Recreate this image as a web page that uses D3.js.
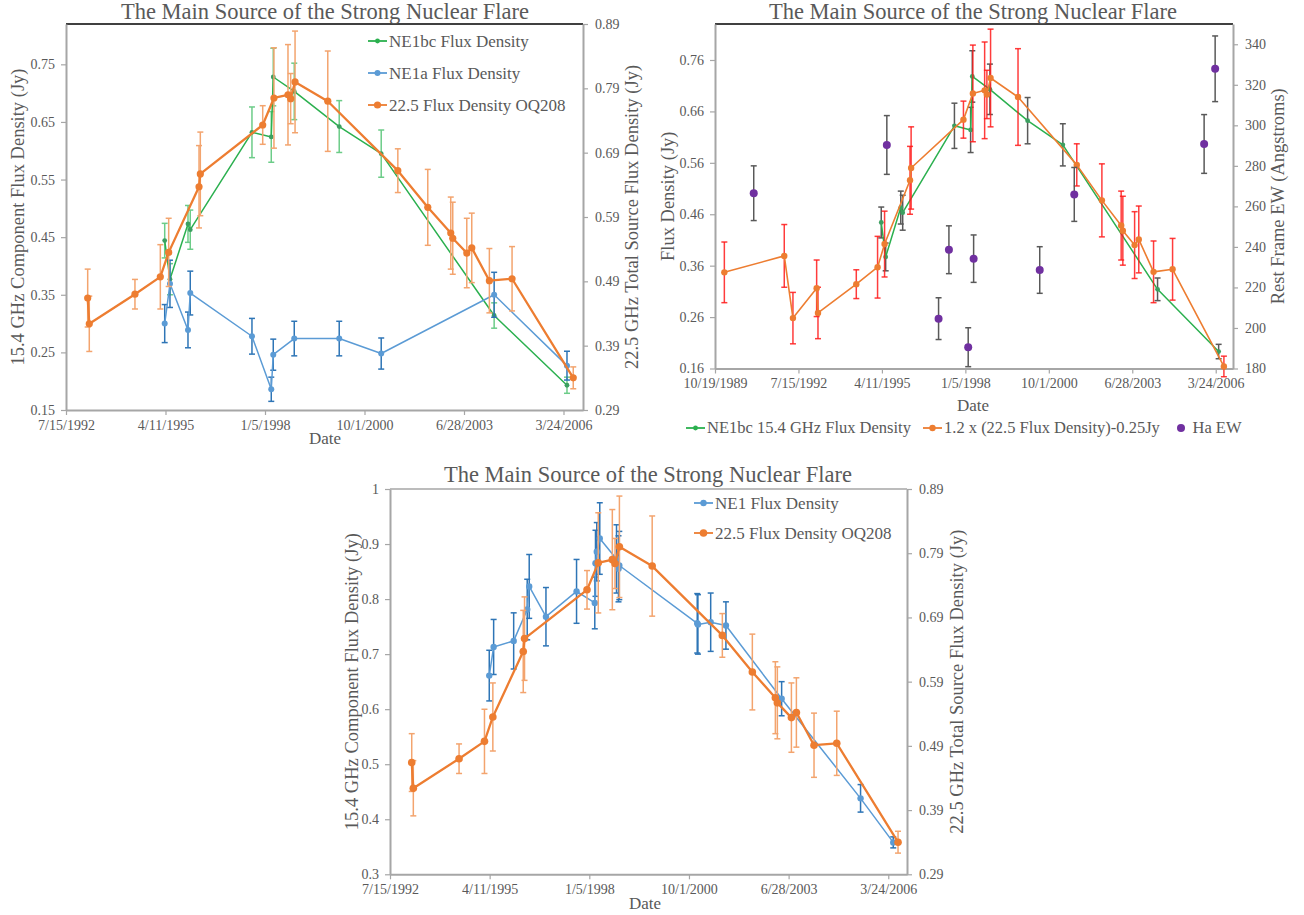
<!DOCTYPE html>
<html>
<head>
<meta charset="utf-8">
<script src="https://cdn.jsdelivr.net/npm/d3@7"></script>
<style>
  body { margin: 0; background: #fff; }
  text { font-family: "Liberation Serif", "Times New Roman", serif; fill: #595959; }
</style>
</head>
<body>
<svg id="chart" width="1304" height="915"></svg>
<script>
const parse = d3.timeParse("%Y-%m-%d");
const parseTick = d3.timeParse("%m/%d/%Y");
const SERIF = '"Liberation Serif", "Times New Roman", serif';

// 22.5 GHz total source flux density (OQ208)
const fluxDates = ["1993-02-18","1993-03-06","1994-06-08","1995-02-18","1995-05-13","1996-03-13","1996-03-26",
  "1997-12-13","1998-04-05","1998-08-24","1998-09-20","1998-11-03","1999-09-28","2001-09-01","2002-06-29",
  "2003-02-15","2003-03-07","2003-07-26","2003-09-14","2004-03-09","2004-10-23","2006-06-30"];
const flux225 = [0.464,0.424,0.470,0.497,0.535,0.637,0.657,0.733,0.775,0.780,0.774,0.800,0.770,0.662,0.605,
  0.565,0.557,0.534,0.542,0.491,0.494,0.340];
const flux225Err = [0.045,0.043,0.023,0.050,0.053,0.064,0.065,0.030,0.078,0.078,0.039,0.079,0.078,0.034,0.059,
  0.056,0.056,0.054,0.054,0.050,0.050,0.017];

// NE1bc and NE1a components (15.4 GHz)
const compDates = ["1995-04-03","1995-05-26","1995-11-23","1995-12-16","1997-08-27","1998-03-09","1998-03-29",
  "1998-10-26","2000-01-21","2001-03-18","2004-04-26","2006-04-28"];
const ne1bc = [0.444,0.377,0.473,0.463,0.632,0.624,0.728,0.703,0.642,0.595,0.314,0.193];
const ne1bcErr = [0.030,0.027,0.032,0.034,0.044,0.044,0.050,0.049,0.045,0.041,0.022,0.014];
const ne1a = [0.300,0.369,0.289,0.353,0.278,0.186,0.246,0.274,0.274,0.248,0.350,0.227];
const ne1aErr = [0.033,0.041,0.031,0.038,0.031,0.021,0.027,0.030,0.030,0.027,0.039,0.025];

// 1.2 x (22.5 flux) - 0.25 Jy, as plotted in the upper right panel
const scaledDates = ["1990-02-08","1992-01-27","1992-05-10","1993-02-18","1993-03-06","1994-06-08","1995-02-18",
  "1995-05-13","1996-03-13","1996-03-26","1997-12-13","1998-04-05","1998-08-24","1998-09-20","1998-11-03",
  "1999-09-28","2001-09-01","2002-06-29","2003-02-15","2003-03-07","2003-07-26","2003-09-14","2004-03-09",
  "2004-10-23","2006-06-30"];
const scaledFlux = [0.347,0.379,0.258,0.316,0.268,0.324,0.357,0.402,0.526,0.550,0.644,0.695,0.701,0.693,0.725,
  0.688,0.556,0.487,0.438,0.428,0.400,0.411,0.348,0.353,0.164];
const scaledErr = [0.059,0.061,0.050,0.055,0.050,0.028,0.060,0.064,0.066,0.080,0.036,0.094,0.094,0.047,0.095,
  0.094,0.041,0.071,0.067,0.067,0.065,0.065,0.060,0.060,0.020];

// H-alpha rest frame equivalent width (Angstroms)
const haDates = ["1991-01-26","1995-06-09","1997-02-18","1997-06-22","1998-02-08","1998-04-14","2000-06-14",
  "2001-08-02","2005-11-05","2006-03-17"];
const haEW = [266.5,290.3,204.6,238.6,190.5,234.2,228.6,265.9,290.8,327.9];
const haErr = [13.5,14.5,10.3,11.8,9.6,11.7,11.5,13.3,14.5,16.2];

// NE1 total (bottom panel)
const ne1Dates = ["1995-04-07","1995-05-21","1995-12-08","1996-04-22","1996-05-12","1996-10-27","1997-08-30",
  "1998-03-01","1998-03-08","1998-03-21","1998-04-20","1998-10-05","1998-10-25","1998-11-02","2000-12-23",
  "2000-12-30","2001-05-07","2001-10-07","2003-04-19","2005-06-19","2006-05-13"];
const ne1 = [0.661,0.713,0.724,0.781,0.823,0.768,0.814,0.793,0.865,0.886,0.910,0.873,0.855,0.861,0.756,
  0.754,0.758,0.752,0.619,0.438,0.358];
const ne1Err = [0.046,0.050,0.051,0.055,0.058,0.053,0.058,0.047,0.060,0.053,0.065,0.062,0.060,0.062,0.054,
  0.054,0.053,0.043,0.031,0.025,0.010];

// tick labels
const dateTicks = ["7/15/1992","4/11/1995","1/5/1998","10/1/2000","6/28/2003","3/24/2006"];
const dateTicksLong = ["10/19/1989","7/15/1992","4/11/1995","1/5/1998","10/1/2000","6/28/2003","3/24/2006"];
const fluxTicksA = [0.15,0.25,0.35,0.45,0.55,0.65,0.75];
const fluxTicksB = [0.16,0.26,0.36,0.46,0.56,0.66,0.76];
const fluxTicksC = [0.3,0.4,0.5,0.6,0.7,0.8,0.9,1];
const totalTicks = [0.29,0.39,0.49,0.59,0.69,0.79,0.89];
const ewTicks = [180,200,220,240,260,280,300,320,340];

const TITLE = "The Main Source of the Strong Nuclear Flare";
const svg = d3.select("#chart");

function styleAxis(sel) {
    sel.attr("font-family", SERIF).attr("font-size", 14);
    sel.select(".domain").attr("stroke", "#a6a6a6").attr("stroke-width", 2);
    sel.selectAll(".tick line").attr("stroke", "#a6a6a6").attr("stroke-width", 1.2);
    sel.selectAll(".tick text").attr("fill", "#595959")
        .style("font-family", SERIF).style("font-size", "14px");
}

function makePanel(p) {
    const g = svg.append("g");
    const x = d3.scaleTime().domain(p.xDomain.map(parse)).range([p.l, p.r]);
    const yL = d3.scaleLinear().domain(p.yL).range([p.b, p.t]);
    const yR = d3.scaleLinear().domain(p.yR).range([p.b, p.t]);

    g.append("line")
        .attr("x1", p.l).attr("x2", p.r).attr("y1", p.t).attr("y2", p.t)
        .attr("stroke", p.topColor).attr("stroke-width", 1.5);

    g.append("g").attr("transform", `translate(0,${p.b})`)
        .call(d3.axisBottom(x).tickValues(p.xTicks.map(parseTick))
            .tickFormat((d, i) => p.xTicks[i]).tickSize(5).tickSizeOuter(0).tickPadding(5))
        .call(styleAxis);
    g.append("g").attr("transform", `translate(${p.l},0)`)
        .call(d3.axisLeft(yL).tickValues(p.yLTicks).tickFormat(p.yLFormat)
            .tickSize(5).tickSizeOuter(0).tickPadding(6))
        .call(styleAxis);
    g.append("g").attr("transform", `translate(${p.r},0)`)
        .call(d3.axisRight(yR).tickValues(p.yRTicks).tickFormat(p.yRFormat)
            .tickSize(5).tickSizeOuter(0).tickPadding(7))
        .call(styleAxis);

    g.append("text").attr("x", p.titleX).attr("y", p.titleY)
        .attr("text-anchor", "middle").style("font-size", "22.5px").text(TITLE);
    g.append("text").attr("x", p.dateX).attr("y", p.dateY)
        .attr("text-anchor", "middle").style("font-size", "17px").text("Date");
    const midY = (p.t + p.b) / 2;
    g.append("text").attr("transform", `translate(${p.leftLabelX},${midY}) rotate(-90)`)
        .attr("text-anchor", "middle").attr("dy", "0.35em").style("font-size", "18.5px").text(p.leftLabel);
    g.append("text").attr("transform", `translate(${p.rightLabelX},${midY}) rotate(-90)`)
        .attr("text-anchor", "middle").attr("dy", "0.35em").style("font-size", "18.5px").text(p.rightLabel);

    return { g, x, yL, yR };
}

function drawSeries(ctx, y, dates, vals, errs, s) {
    const pts = dates.map((d, i) => ({
        x: ctx.x(parse(d)),
        y: y(vals[i]),
        lo: y(vals[i] - errs[i]),
        hi: y(vals[i] + errs[i])
    }));
    const eg = ctx.g.append("g")
        .attr("stroke", s.errColor).attr("stroke-width", s.errWidth || 1.5)
        .attr("stroke-opacity", s.errOpacity || 1);
    const cap = 3;
    pts.forEach(p => {
        eg.append("line").attr("x1", p.x).attr("x2", p.x).attr("y1", p.lo).attr("y2", p.hi);
        eg.append("line").attr("x1", p.x - cap).attr("x2", p.x + cap).attr("y1", p.lo).attr("y2", p.lo);
        eg.append("line").attr("x1", p.x - cap).attr("x2", p.x + cap).attr("y1", p.hi).attr("y2", p.hi);
    });
    if (s.lineWidth) {
        ctx.g.append("path").datum(pts)
            .attr("fill", "none").attr("stroke", s.color).attr("stroke-width", s.lineWidth)
            .attr("stroke-linejoin", "round")
            .attr("d", d3.line().x(d => d.x).y(d => d.y));
    }
    ctx.g.append("g").selectAll("circle").data(pts).join("circle")
        .attr("cx", d => d.x).attr("cy", d => d.y).attr("r", s.r)
        .attr("fill", s.marker || s.color);
}

function legendItem(g, x, y, label, color, r, withLine, size) {
    if (withLine) {
        g.append("line").attr("x1", x).attr("x2", x + 19).attr("y1", y).attr("y2", y)
            .attr("stroke", color).attr("stroke-width", 1.8);
    }
    g.append("circle").attr("cx", x + 9.5).attr("cy", y).attr("r", r).attr("fill", color);
    g.append("text").attr("x", x + 21).attr("y", y).attr("dy", "0.33em")
        .style("font-size", size + "px").text(label);
}

const fmt2 = d3.format(".2f");

// ---------- top left ----------
const A = makePanel({
    l: 66, r: 583, t: 24, b: 410,
    xDomain: ["1992-07-15", "2006-10-06"], xTicks: dateTicks,
    yL: [0.15, 0.82], yLTicks: fluxTicksA, yLFormat: fmt2,
    yR: [0.29, 0.89], yRTicks: totalTicks, yRFormat: fmt2,
    topColor: "#000",
    titleX: 325, titleY: 19, dateX: 325, dateY: 444,
    leftLabelX: 18, rightLabelX: 632,
    leftLabel: "15.4 GHz Component Flux Density (Jy)",
    rightLabel: "22.5 GHz Total Source Flux Density (Jy)"
});
drawSeries(A, A.yL, compDates, ne1bc, ne1bcErr,
    { color: "#2bb04f", marker: "#3c9f60", r: 2.4, lineWidth: 1.5, errColor: "#6ccc88" });
drawSeries(A, A.yL, compDates, ne1a, ne1aErr,
    { color: "#5b9bd5", r: 3, lineWidth: 1.5, errColor: "#2e75b6" });
drawSeries(A, A.yR, fluxDates, flux225, flux225Err,
    { color: "#ed7d31", r: 3.6, lineWidth: 2.3, errColor: "#f3a46e" });
legendItem(A.g, 368, 41, "NE1bc Flux Density", "#2bb04f", 2.4, true, 17);
legendItem(A.g, 368, 73, "NE1a Flux Density", "#5b9bd5", 3, true, 17);
legendItem(A.g, 368, 105, "22.5 Flux Density OQ208", "#ed7d31", 3.6, true, 17);

// ---------- top right ----------
const B = makePanel({
    l: 715, r: 1233, t: 24, b: 368.5,
    xDomain: ["1989-10-19", "2006-10-17"], xTicks: dateTicksLong,
    yL: [0.16, 0.83], yLTicks: fluxTicksB, yLFormat: fmt2,
    yR: [180, 350], yRTicks: ewTicks, yRFormat: d3.format("d"),
    topColor: "#000",
    titleX: 973, titleY: 19, dateX: 973, dateY: 411,
    leftLabelX: 668, rightLabelX: 1278,
    leftLabel: "Flux Density (Jy)",
    rightLabel: "Rest Frame EW (Angstroms)"
});
drawSeries(B, B.yL, compDates, ne1bc, ne1bcErr,
    { color: "#2bb04f", marker: "#3c9f60", r: 2.4, lineWidth: 1.5, errColor: "#595959" });
drawSeries(B, B.yL, scaledDates, scaledFlux, scaledErr,
    { color: "#ed7d31", r: 3.2, lineWidth: 1.6, errColor: "#ff1a1a", errOpacity: 0.85 });
drawSeries(B, B.yR, haDates, haEW, haErr,
    { color: "#7030a0", r: 4, lineWidth: 0, errColor: "#595959" });
legendItem(B.g, 686, 428, "NE1bc 15.4 GHz Flux Density", "#2bb04f", 2.4, true, 16.5);
legendItem(B.g, 923, 428, "1.2 x (22.5 Flux Density)-0.25Jy", "#ed7d31", 3.2, true, 16.5);
legendItem(B.g, 1171.5, 428, "Ha EW", "#7030a0", 4, false, 16.5);

// ---------- bottom ----------
const C = makePanel({
    l: 390, r: 907, t: 489, b: 874.3,
    xDomain: ["1992-07-15", "2006-09-28"], xTicks: dateTicks,
    yL: [0.3, 1.0], yLTicks: fluxTicksC, yLFormat: d => d === 1 ? "1" : d.toFixed(1),
    yR: [0.29, 0.89], yRTicks: totalTicks, yRFormat: fmt2,
    topColor: "#a6a6a6",
    titleX: 648, titleY: 482, dateX: 645, dateY: 909,
    leftLabelX: 352, rightLabelX: 957,
    leftLabel: "15.4 GHz Component Flux Density (Jy)",
    rightLabel: "22.5 GHz Total Source Flux Density (Jy)"
});
drawSeries(C, C.yL, ne1Dates, ne1, ne1Err,
    { color: "#5b9bd5", r: 3.2, lineWidth: 1.5, errColor: "#2e75b6" });
drawSeries(C, C.yR, fluxDates, flux225, flux225Err,
    { color: "#ed7d31", r: 3.8, lineWidth: 2.3, errColor: "#f3a46e" });
legendItem(C.g, 694, 503, "NE1 Flux Density", "#5b9bd5", 3.2, true, 17);
legendItem(C.g, 694, 533, "22.5 Flux Density OQ208", "#ed7d31", 3.8, true, 17);
</script>
</body>
</html>
